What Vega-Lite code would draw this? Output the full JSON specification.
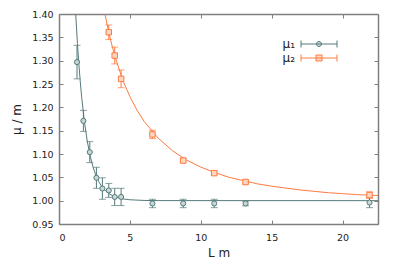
{
  "$schema": "https://vega.github.io/schema/vega-lite/v6.json",
  "autosize": "none",
  "width": 319,
  "height": 210,
  "padding": {"left": 59, "top": 14, "right": 21, "bottom": 42},
  "background": "white",
  "config": {
    "view": {"stroke": null},
    "font": "DejaVu Sans",
    "axis": {
      "domainColor": "#7f7f7f",
      "domainWidth": 1.5,
      "tickColor": "#7f7f7f",
      "tickSize": -4,
      "tickWidth": 1,
      "grid": false,
      "labelFont": "DejaVu Sans",
      "labelFontSize": 9.5,
      "labelColor": "#222",
      "titleFont": "DejaVu Sans",
      "titleFontSize": 12,
      "titleFontWeight": "normal",
      "titleColor": "#222"
    }
  },
  "datasets": {
    "points": [
      {"series": "μ₁", "L": 1.27, "mu": 1.297, "err": 0.036},
      {"series": "μ₁", "L": 1.72, "mu": 1.171, "err": 0.0225},
      {"series": "μ₁", "L": 2.17, "mu": 1.104, "err": 0.0225},
      {"series": "μ₁", "L": 2.64, "mu": 1.049, "err": 0.0225},
      {"series": "μ₁", "L": 3.06, "mu": 1.026, "err": 0.023},
      {"series": "μ₁", "L": 3.51, "mu": 1.022, "err": 0.015},
      {"series": "μ₁", "L": 3.93, "mu": 1.008, "err": 0.0185},
      {"series": "μ₁", "L": 4.38, "mu": 1.008, "err": 0.0185},
      {"series": "μ₁", "L": 6.59, "mu": 0.994, "err": 0.009},
      {"series": "μ₁", "L": 8.76, "mu": 0.994, "err": 0.009},
      {"series": "μ₁", "L": 10.95, "mu": 0.994, "err": 0.009},
      {"series": "μ₁", "L": 13.16, "mu": 0.994, "err": 0.005},
      {"series": "μ₁", "L": 21.9, "mu": 0.996, "err": 0.011},
      {"series": "μ₂", "L": 3.51, "mu": 1.361, "err": 0.0155},
      {"series": "μ₂", "L": 3.93, "mu": 1.311, "err": 0.018},
      {"series": "μ₂", "L": 4.38, "mu": 1.261, "err": 0.019},
      {"series": "μ₂", "L": 6.59, "mu": 1.142, "err": 0.009},
      {"series": "μ₂", "L": 8.76, "mu": 1.086, "err": 0.004},
      {"series": "μ₂", "L": 10.95, "mu": 1.059, "err": 0.004},
      {"series": "μ₂", "L": 13.16, "mu": 1.04, "err": 0.004},
      {"series": "μ₂", "L": 21.9, "mu": 1.012, "err": 0.007}
    ],
    "curve1": [
      {"series": "μ₁", "L": 1.18, "mu": 1.399},
      {"series": "μ₁", "L": 1.3, "mu": 1.337},
      {"series": "μ₁", "L": 1.4, "mu": 1.293},
      {"series": "μ₁", "L": 1.5, "mu": 1.255},
      {"series": "μ₁", "L": 1.6, "mu": 1.2215},
      {"series": "μ₁", "L": 1.8, "mu": 1.167},
      {"series": "μ₁", "L": 2.0, "mu": 1.1265},
      {"series": "μ₁", "L": 2.2, "mu": 1.0956},
      {"series": "μ₁", "L": 2.4, "mu": 1.072},
      {"series": "μ₁", "L": 2.6, "mu": 1.0546},
      {"series": "μ₁", "L": 2.8, "mu": 1.041},
      {"series": "μ₁", "L": 3.0, "mu": 1.031},
      {"series": "μ₁", "L": 3.3, "mu": 1.0205},
      {"series": "μ₁", "L": 3.6, "mu": 1.0135},
      {"series": "μ₁", "L": 4.0, "mu": 1.0077},
      {"series": "μ₁", "L": 4.5, "mu": 1.0038},
      {"series": "μ₁", "L": 5.0, "mu": 1.0019},
      {"series": "μ₁", "L": 6.0, "mu": 1.0005},
      {"series": "μ₁", "L": 7.0, "mu": 1.0001},
      {"series": "μ₁", "L": 22.5, "mu": 1.0}
    ],
    "curve2": [
      {"series": "μ₂", "L": 3.25, "mu": 1.399},
      {"series": "μ₂", "L": 3.5, "mu": 1.362},
      {"series": "μ₂", "L": 3.75, "mu": 1.331},
      {"series": "μ₂", "L": 4.0, "mu": 1.304},
      {"series": "μ₂", "L": 4.5, "mu": 1.258},
      {"series": "μ₂", "L": 5.0, "mu": 1.223},
      {"series": "μ₂", "L": 5.5, "mu": 1.194},
      {"series": "μ₂", "L": 6.0, "mu": 1.170},
      {"series": "μ₂", "L": 7.0, "mu": 1.134},
      {"series": "μ₂", "L": 8.0, "mu": 1.107},
      {"series": "μ₂", "L": 9.0, "mu": 1.087},
      {"series": "μ₂", "L": 10.0, "mu": 1.072},
      {"series": "μ₂", "L": 11.0, "mu": 1.060},
      {"series": "μ₂", "L": 12.0, "mu": 1.050},
      {"series": "μ₂", "L": 13.0, "mu": 1.043},
      {"series": "μ₂", "L": 14.0, "mu": 1.036},
      {"series": "μ₂", "L": 15.0, "mu": 1.031},
      {"series": "μ₂", "L": 16.0, "mu": 1.027},
      {"series": "μ₂", "L": 17.0, "mu": 1.023},
      {"series": "μ₂", "L": 18.0, "mu": 1.020},
      {"series": "μ₂", "L": 19.0, "mu": 1.017},
      {"series": "μ₂", "L": 20.0, "mu": 1.015},
      {"series": "μ₂", "L": 21.0, "mu": 1.013},
      {"series": "μ₂", "L": 22.5, "mu": 1.011}
    ]
  },
  "resolve": {"axis": {"x": "independent", "y": "independent"}},
  "layer": [
    {
      "data": {"name": "curve1"},
      "mark": {"type": "line", "strokeWidth": 1, "clip": true},
      "encoding": {
        "x": {"field": "L", "type": "quantitative", "scale": {"domain": [0, 22.5], "nice": false, "zero": false},
              "axis": {"title": "L m", "values": [0, 5, 10, 15, 20], "labelPadding": 12, "titlePadding": 6}},
        "y": {"field": "mu", "type": "quantitative", "scale": {"domain": [0.95, 1.4], "nice": false, "zero": false},
              "axis": {"title": "μ / m", "values": [0.95, 1.0, 1.05, 1.1, 1.15, 1.2, 1.25, 1.3, 1.35, 1.4], "format": ".2f", "labelPadding": 10, "titlePadding": 8}},
        "color": {"field": "series", "type": "nominal",
                  "scale": {"domain": ["μ₁", "μ₂"], "range": ["#557a7a", "#ff7a40"]},
                  "legend": {
                    "orient": "none", "legendX": 254, "legendY": 24, "title": null,
                    "symbolSize": 100, "rowPadding": 2, "padding": 0,
                    "labelFont": "DejaVu Sans", "labelFontSize": 12, "labelColor": "#222",
                    "labelAlign": "right", "labelOffset": -30,
                    "encode": {
                      "symbols": {"update": {
                        "shape": {"signal": "datum.value === 'μ₁' ? 'M-3.6,0H3.6M-3.6,-0.7V0.7M3.6,-0.7V0.7M0.5,0A0.5,0.5,0,1,1,-0.5,0A0.5,0.5,0,1,1,0.5,0Z' : 'M-3.6,0H3.6M-3.6,-0.7V0.7M3.6,-0.7V0.7M-0.6,-0.6H0.6V0.6H-0.6Z'"},
                        "fill": {"signal": "datum.value === 'μ₁' ? '#c8d6d6' : '#ffd6c2'"},
                        "fillOpacity": {"value": 0.3},
                        "stroke": {"signal": "datum.value === 'μ₁' ? '#557a7a' : '#ff7a40'"},
                        "strokeWidth": {"value": 1},
                        "opacity": {"value": 1}
                      }}
                    }
                  }}
      }
    },
    {
      "data": {"name": "curve2"},
      "mark": {"type": "line", "strokeWidth": 1, "clip": true},
      "encoding": {
        "x": {"field": "L", "type": "quantitative", "axis": {"orient": "top", "labels": false, "title": null, "values": [0, 5, 10, 15, 20]}},
        "y": {"field": "mu", "type": "quantitative", "axis": {"orient": "right", "labels": false, "title": null, "values": [0.95, 1.0, 1.05, 1.1, 1.15, 1.2, 1.25, 1.3, 1.35, 1.4]}},
        "color": {"field": "series", "type": "nominal"}
      }
    },
    {
      "data": {"name": "points"},
      "mark": {"type": "errorbar", "ticks": {"size": 7, "thickness": 1}, "thickness": 1, "clip": true},
      "encoding": {
        "x": {"field": "L", "type": "quantitative", "axis": null},
        "y": {"field": "mu", "type": "quantitative", "axis": null},
        "yError": {"field": "err"},
        "color": {"field": "series", "type": "nominal"}
      }
    },
    {
      "data": {"name": "points"},
      "transform": [{"filter": "datum.series === 'μ₁'"}],
      "mark": {"type": "point", "shape": "circle", "filled": false, "fill": "#c8d6d6", "fillOpacity": 1, "strokeWidth": 1, "opacity": 1, "size": 26, "clip": true},
      "encoding": {
        "x": {"field": "L", "type": "quantitative", "axis": null},
        "y": {"field": "mu", "type": "quantitative", "axis": null},
        "color": {"field": "series", "type": "nominal"}
      }
    },
    {
      "data": {"name": "points"},
      "transform": [{"filter": "datum.series === 'μ₂'"}],
      "mark": {"type": "point", "shape": "square", "filled": false, "fill": "#ffd6c2", "fillOpacity": 1, "strokeWidth": 1, "opacity": 1, "size": 30, "clip": true},
      "encoding": {
        "x": {"field": "L", "type": "quantitative", "axis": null},
        "y": {"field": "mu", "type": "quantitative", "axis": null},
        "color": {"field": "series", "type": "nominal"}
      }
    }
  ]
}
